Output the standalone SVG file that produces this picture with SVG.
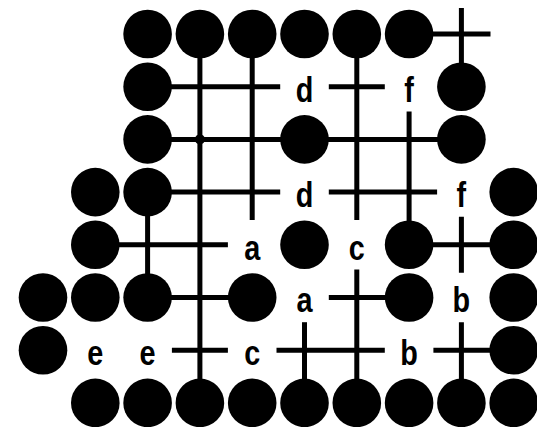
<svg xmlns="http://www.w3.org/2000/svg" width="537" height="427" viewBox="0 0 537 427">
<style>
.ln{stroke:#000;stroke-width:5;fill:none;stroke-linecap:butt}
.st{fill:#000}
.lb{font-family:"Liberation Sans",Arial,sans-serif;font-weight:bold;font-size:36px;fill:#000;text-anchor:middle}
</style>
<rect width="537" height="427" fill="#fff"/>
<g id="connectors" class="ln">
<path d="M409.1 34H490.5"/>
<path d="M147.6 86.7H280.2M328.8 86.7H384.8"/>
<path d="M147.6 139.4H304.5M304.5 139.4H461.4"/>
<path d="M147.6 192.1H280.2M328.8 192.1H437.1"/>
<path d="M95.3 244.8H227.9M409.1 244.8H513.7"/>
<path d="M147.6 297.5H252.2M328.8 297.5H409.1"/>
<path d="M171.9 350.2H227.9M276.5 350.2H384.8M433.4 350.2H513.7"/>
<path d="M147.6 192.1V297.5"/>
<path d="M199.9 34V402.9"/>
<path d="M252.2 34V220.1"/>
<path d="M304.5 322.2V402.9"/>
<path d="M356.8 34V220.1M356.8 269.5V402.9"/>
<path d="M409.1 111.4V244.8"/>
<path d="M461.4 8V86.7M461.4 216.8V272.8M461.4 322.2V402.9"/>
<circle cx="199.9" cy="139.4" r="5" fill="#000" stroke="none"/>
</g>
<g id="stones" class="st">
<g id="row0"><circle cx="147.6" cy="34" r="24.3"/><circle cx="199.9" cy="34" r="24.3"/><circle cx="252.2" cy="34" r="24.3"/><circle cx="304.5" cy="34" r="24.3"/><circle cx="356.8" cy="34" r="24.3"/><circle cx="409.1" cy="34" r="24.3"/></g>
<g id="row1"><circle cx="147.6" cy="86.7" r="24.3"/><circle cx="461.4" cy="86.7" r="24.3"/></g>
<g id="row2"><circle cx="147.6" cy="139.4" r="24.3"/><circle cx="304.5" cy="139.4" r="24.3"/><circle cx="461.4" cy="139.4" r="24.3"/></g>
<g id="row3"><circle cx="95.3" cy="192.1" r="24.3"/><circle cx="147.6" cy="192.1" r="24.3"/><circle cx="513.7" cy="192.1" r="24.3"/></g>
<g id="row4"><circle cx="95.3" cy="244.8" r="24.3"/><circle cx="304.5" cy="244.8" r="24.3"/><circle cx="409.1" cy="244.8" r="24.3"/><circle cx="513.7" cy="244.8" r="24.3"/></g>
<g id="row5"><circle cx="43" cy="297.5" r="24.3"/><circle cx="95.3" cy="297.5" r="24.3"/><circle cx="147.6" cy="297.5" r="24.3"/><circle cx="252.2" cy="297.5" r="24.3"/><circle cx="409.1" cy="297.5" r="24.3"/><circle cx="513.7" cy="297.5" r="24.3"/></g>
<g id="row6"><circle cx="43" cy="350.2" r="24.3"/><circle cx="513.7" cy="350.2" r="24.3"/></g>
<g id="row7"><circle cx="95.3" cy="402.9" r="24.3"/><circle cx="147.6" cy="402.9" r="24.3"/><circle cx="199.9" cy="402.9" r="24.3"/><circle cx="252.2" cy="402.9" r="24.3"/><circle cx="304.5" cy="402.9" r="24.3"/><circle cx="356.8" cy="402.9" r="24.3"/><circle cx="409.1" cy="402.9" r="24.3"/><circle cx="461.4" cy="402.9" r="24.3"/><circle cx="513.7" cy="402.9" r="24.3"/></g>
</g>
<g id="labels" class="lb">
<text transform="translate(304.5,101.5) scale(0.8,1)">d</text>
<text transform="translate(409.1,101.5) scale(0.8,1)">f</text>
<text transform="translate(304.5,206.9) scale(0.8,1)">d</text>
<text transform="translate(461.4,206.9) scale(0.8,1)">f</text>
<text transform="translate(252.2,259.6) scale(0.8,1)">a</text>
<text transform="translate(356.8,259.6) scale(0.8,1)">c</text>
<text transform="translate(304.5,312.3) scale(0.8,1)">a</text>
<text transform="translate(461.4,312.3) scale(0.8,1)">b</text>
<text transform="translate(95.3,365) scale(0.8,1)">e</text>
<text transform="translate(147.6,365) scale(0.8,1)">e</text>
<text transform="translate(252.2,365) scale(0.8,1)">c</text>
<text transform="translate(409.1,365) scale(0.8,1)">b</text>
</g>
</svg>
